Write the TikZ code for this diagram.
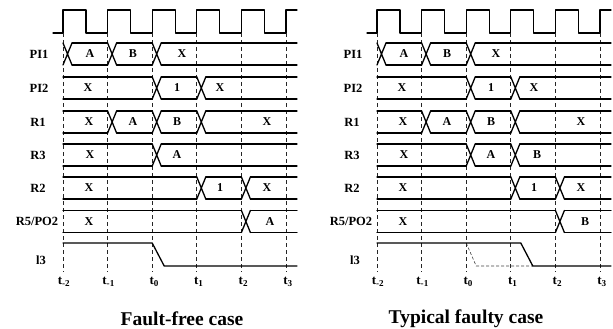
\documentclass[tikz,border=0pt]{standalone}
\usepackage{fontspec}
\setmainfont{Liberation Serif}
\tikzset{
  sig/.style={line width=1.3pt, black, line cap=round, line join=round},
  gridline/.style={dash pattern=on 4pt off 3pt, line width=0.7pt, black!85},
  faultline/.style={dash pattern=on 3pt off 2pt, line width=0.6pt, black!75},
  lbl/.style={font=\fontsize{12.5}{14}\selectfont\bfseries, inner sep=0pt},
  val/.style={font=\fontsize{12}{14}\selectfont\bfseries, inner sep=0pt},
  tlbl/.style={font=\fontsize{13}{15}\selectfont\bfseries, inner sep=0pt},
  capt/.style={font=\fontsize{19.5}{22}\selectfont\bfseries, inner sep=0pt},
}
\def\Ta{63}\def\Tb{107.6}\def\Tc{152.2}\def\Td{196.8}\def\Te{241.4}\def\Tf{286}\def\E{297}
% crossing of a bus at x=#1, row centre #2
\newcommand\xing[2]{\draw[sig] (#1,#2-11) -- ++(9,22) (#1,#2+11) -- ++(9,-22);}
% flat bus segment from #1 to #2, row centre #3
\newcommand\seg[3]{\draw[sig] (#1,#3-11) -- (#2,#3-11) (#1,#3+11) -- (#2,#3+11);}
\newcommand\panel[1]{%
  % clock
  \draw[sig] (53,33) \foreach \t in {\Ta,\Tb,\Tc,\Td,\Te}{ -- (\t,33) -- (\t,10) -- (\t+23,10) -- (\t+23,33) } -- (\Tf,33) -- (\Tf,10) -- (\E,10);
  % time grid
  \foreach \t in {\Ta,\Tb,\Tc,\Td,\Te,\Tf} \draw[gridline] (\t,33) -- (\t,272);
  % row labels
  \node[lbl] (#1pi1) at (39,54) {PI1};
  \node[lbl] (#1pi2) at (39,88) {PI2};
  \node[lbl] (#1r1) at (38,122) {R1};
  \node[lbl] (#1r3) at (38,155) {R3};
  \node[lbl] (#1r2) at (38,188) {R2};
  \node[lbl] (#1r5) at (37,221.5) {R5/PO2};
  \node[lbl] (#1l3) at (41,260) {l3};
  % PI1
  \xing{\Ta}{54}\seg{\Ta+9}{\Tb}{54}\xing{\Tb}{54}\seg{\Tb+9}{\Tc}{54}\xing{\Tc}{54}\seg{\Tc+9}{\E}{54}
  \node[val] (#1pia) at (90,54) {A};
  \node[val] (#1pib) at (133,54) {B};
  \node[val] (#1pix) at (182,54) {X};
  % PI2
  \seg{\Ta}{\Tc}{88}\xing{\Tc}{88}\seg{\Tc+9}{\Td}{88}\xing{\Td}{88}\seg{\Td+9}{\E}{88}
  \node[val] (#1pbx) at (88,88) {X};
  \node[val] (#1pbo) at (177,88) {1};
  \node[val] (#1pbx2) at (220,88) {X};
  % R1
  \seg{\Ta}{\Tb}{122}\xing{\Tb}{122}\seg{\Tb+9}{\Tc}{122}\xing{\Tc}{122}\seg{\Tc+9}{\Td}{122}\xing{\Td}{122}\seg{\Td+9}{\E}{122}
  \node[val] (#1rax) at (89,122) {X};
  \node[val] (#1raa) at (133,122) {A};
  \node[val] (#1rab) at (177,122) {B};
  \node[val] (#1rax2) at (267,122) {X};
  % R2
  \seg{\Ta}{\Td}{188}\xing{\Td}{188}\seg{\Td+9}{\Te}{188}\xing{\Te}{188}\seg{\Te+9}{\E}{188}
  \node[val] (#1rbx) at (89,188) {X};
  \node[val] (#1rbo) at (220,188) {1};
  \node[val] (#1rbx2) at (267,188) {X};
  % R5/PO2
  \seg{\Ta}{\Te}{221.5}\xing{\Te}{221.5}\seg{\Te+9}{\E}{221.5}
  \node[val] (#1rcx) at (89,221.5) {X};
  % R3 first value
  \node[val] (#1rdx) at (90,155) {X};
  % time labels
  \node[tlbl] (#1t0) at (\Ta+1,282) {t\textsubscript{-2}};
  \node[tlbl] (#1t1) at (\Tb+1,282) {t\textsubscript{-1}};
  \node[tlbl] (#1t2) at (\Tc+2,282) {t\textsubscript{0}};
  \node[tlbl] (#1t3) at (\Td+2,282) {t\textsubscript{1}};
  \node[tlbl] (#1t4) at (\Te+2,282) {t\textsubscript{2}};
  \node[tlbl] (#1t5) at (\Tf+2,282) {t\textsubscript{3}};
}
\begin{document}
\begin{tikzpicture}[x=1pt,y=-1pt]
  \useasboundingbox (0,0) rectangle (613,329);
  % ---------- Fault-free case ----------
  \panel{L}
  \seg{\Ta}{\Tc}{155}\xing{\Tc}{155}\seg{\Tc+9}{\E}{155}
  \node[val] (Lrda) at (177,155) {A};
  \node[val] (Lrca) at (270,221.5) {A};
  \draw[sig] (\Ta,243) -- (\Tc,243) -- (\Tc+12,266) -- (\E,266);
  \node[capt] (capL) at (182,319) {Fault-free case};
  % ---------- Typical faulty case ----------
  \begin{scope}[xshift=314pt]
    \panel{R}
    \seg{\Ta}{\Tc}{155}\xing{\Tc}{155}\seg{\Tc+9}{\Td}{155}\xing{\Td}{155}\seg{\Td+9}{\E}{155}
    \node[val] (Rrda) at (177,155) {A};
    \node[val] (Rrdb) at (223,155) {B};
    \node[val] (Rrcb) at (271,221.5) {B};
    \draw[faultline] (\Tc,243) -- (\Tc+10,266) -- (\Td+22,266);
    \draw[sig] (\Ta,243) -- (\Td+10,243) -- (\Td+22,266) -- (\E,266);
  \end{scope}
  \node[capt] (capR) at (466,319) {Typical faulty case};
\end{tikzpicture}
\end{document}
